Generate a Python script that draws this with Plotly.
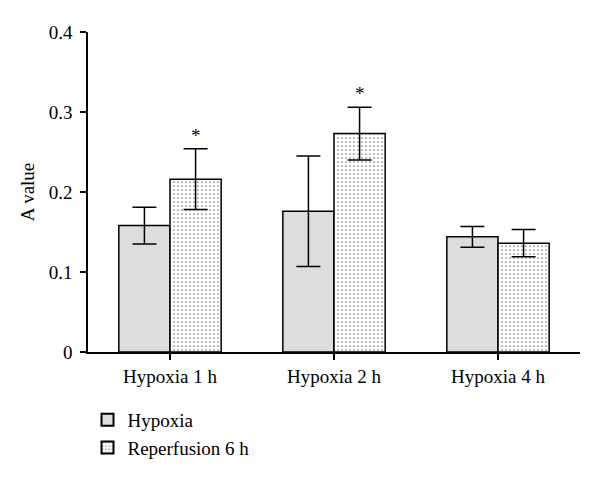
import plotly.graph_objects as go

categories = ["Hypoxia 1 h", "Hypoxia 2 h", "Hypoxia 4 h"]
hypoxia = [0.158, 0.176, 0.144]
hypoxia_err = [0.023, 0.069, 0.013]
reperfusion = [0.216, 0.273, 0.136]
reperfusion_err = [0.038, 0.033, 0.017]
sig_labels = ["*", "*", ""]
y_ticks = [0, 0.1, 0.2, 0.3, 0.4]
y_ticktext = ["0", "0.1", "0.2", "0.3", "0.4"]

FONT = "Liberation Serif"

fig = go.Figure()
fig.add_trace(go.Bar(
    name="Hypoxia", x=categories, y=hypoxia,
    marker=dict(color="#dcdddf", line=dict(color="black", width=1.5)),
    error_y=dict(type="data", array=hypoxia_err, color="black", thickness=1.5, width=12),
))
fig.add_trace(go.Bar(
    name="Reperfusion 6 h", x=categories, y=reperfusion,
    marker=dict(color="white", line=dict(color="black", width=1.5),
                pattern=dict(shape=".", fgcolor="black", bgcolor="white", size=4, solidity=0.15)),
    error_y=dict(type="data", array=reperfusion_err, color="black", thickness=1.5, width=12),
))

for c, v, e, s in zip(categories, reperfusion, reperfusion_err, sig_labels):
    if s:
        fig.add_annotation(x=c, y=v + e, text=s, showarrow=False, xshift=25.5,
                           yanchor="bottom", yshift=1, font=dict(family=FONT, size=19, color="black"))

fig.update_layout(
    width=592, height=475,
    margin=dict(l=80, r=20, t=24, b=131, autoexpand=False),
    plot_bgcolor="white", paper_bgcolor="white",
    barmode="group", bargap=0.376, bargroupgap=0,
    font=dict(family=FONT, size=19, color="black"),
    showlegend=True,
    legend=dict(x=-0.001, xanchor="left", y=-0.153, yanchor="top",
                font=dict(family=FONT, size=19, color="black"), bgcolor="rgba(0,0,0,0)",
                tracegroupgap=0, itemsizing="constant"),
    xaxis=dict(showline=True, linecolor="black", linewidth=1.5, ticks="outside",
               ticklen=6, tickwidth=1.5, tickcolor="black", showgrid=False, automargin=False,
               range=[-0.5, 2.5], tickfont=dict(family=FONT, size=19, color="black")),
    yaxis=dict(showline=True, linecolor="black", linewidth=1.5, ticks="outside",
               ticklen=6, tickwidth=1.5, tickcolor="black", showgrid=False, zeroline=False,
               automargin=False, ticklabelstandoff=4,
               range=[0, 0.4], tickvals=y_ticks, ticktext=y_ticktext,
               tickfont=dict(family=FONT, size=19, color="black"),
               title=dict(text="A value", font=dict(family=FONT, size=19, color="black"), standoff=9)),
)

fig.write_html("out.html")
